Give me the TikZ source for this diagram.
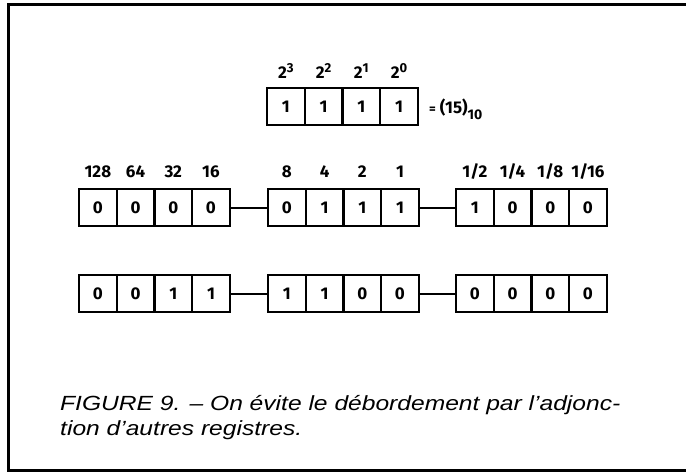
\documentclass[tikz,border=0pt]{standalone}
\usepackage{fontspec}
\setmainfont{Liberation Sans}
\newfontfamily\dinfont{Fira Sans}
\newfontfamily\capfont[FakeStretch=1.2]{Liberation Sans}
\newcommand\regrow[4]{%
  \foreach \v [count=\i] in {#4} {%
    \node[cell] (#1\i) at ({#2+18.85+(\i-1)*37.7},#3) {\v};}}
\begin{document}
\begin{tikzpicture}[x=1pt,y=-1pt,
  cell/.style={draw,line width=2.3pt,minimum width=37.7pt,minimum height=37.5pt,
    inner sep=0pt,font=\dinfont\bfseries\fontsize{17}{17}\selectfont},
  lab/.style={inner sep=0pt,font=\dinfont\bfseries\fontsize{17}{17}\selectfont},
  conn/.style={line width=2pt},
  frame/.style={line width=3pt}]
\useasboundingbox (0,0) rectangle (686,475);
\draw[frame] (686,4.5) -- (8.5,4.5) -- (8.5,470.5) -- (686,470.5);
% top register
\regrow{t}{267}{106.5}{1,1,1,1}
\foreach \p [count=\i] in {3,2,1,0}
  \node[lab,anchor=base] (tl\i) at ([yshift=8pt]t\i.north) {2\raisebox{6pt}{\fontsize{13}{13}\selectfont\p}};
\node[lab,anchor=base west] (eq) at (429,113) {{\fontsize{13}{13}\selectfont=} (15)\raisebox{-6pt}{\fontsize{14}{14}\selectfont 10}};
% row 2
\regrow{a}{79}{207.5}{0,0,0,0}
\regrow{b}{268}{207.5}{0,1,1,1}
\regrow{c}{456}{207.5}{1,0,0,0}
\foreach \w [count=\i] in {128,64,32,16}
  \node[lab,anchor=base] (al\i) at ([yshift=10.5pt]a\i.north) {\w};
\foreach \w [count=\i] in {8,4,2,1}
  \node[lab,anchor=base] (bl\i) at ([yshift=10.5pt]b\i.north) {\w};
\foreach \w [count=\i] in {1/2,1/4,1/8,1/16}
  \node[lab,anchor=base] (cl\i) at ([yshift=10.5pt]c\i.north) {\w};
\draw[conn] (a4.east) -- (b1.west);
\draw[conn] (b4.east) -- (c1.west);
% row 3
\regrow{d}{79}{293.5}{0,0,1,1}
\regrow{e}{268}{293.5}{1,1,0,0}
\regrow{f}{456}{293.5}{0,0,0,0}
\draw[conn] (d4.east) -- (e1.west);
\draw[conn] (e4.east) -- (f1.west);
% caption
\node[anchor=base west,inner sep=0pt,align=left,
  font=\capfont\itshape\fontsize{20.5}{25}\selectfont] (cap) at (60,435)
  {FIGURE 9. – On évite le débordement par l’adjonc-\\tion d’autres registres.};
\end{tikzpicture}
\end{document}
